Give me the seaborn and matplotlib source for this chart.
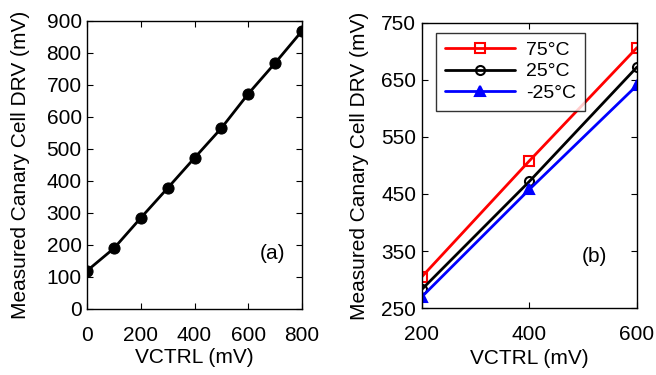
import numpy as np
import pandas as pd
import seaborn as sns
import matplotlib.pyplot as plt

# -----------------------------
# Data
# -----------------------------
vctrl_a = [0, 100, 200, 300, 400, 500, 600, 700, 800]
drv_a = [120, 190, 285, 378, 472, 565, 672, 768, 868]

vctrl_b = [200, 400, 600]
drv_75 = [305, 508, 706]
drv_25 = [283, 472, 672]
drv_m25 = [270, 458, 640]
temp_labels = ["75\u00b0C", "25\u00b0C", "-25\u00b0C"]

# -----------------------------
# Style
# -----------------------------
sns.set_theme(style="ticks")
plt.rcParams["font.family"] = ["Liberation Sans", "DejaVu Sans"]
plt.rcParams["font.size"] = 15
plt.rcParams["xtick.direction"] = "in"
plt.rcParams["ytick.direction"] = "in"
plt.rcParams["xtick.top"] = True
plt.rcParams["ytick.right"] = True
for key in ["text.color", "axes.labelcolor", "xtick.color", "ytick.color",
            "axes.edgecolor"]:
    plt.rcParams[key] = "black"

FS = 15

fig = plt.figure(figsize=(6.56, 3.75), dpi=100)
ax1 = fig.add_axes([0.133, 0.176, 0.327, 0.768])
ax2 = fig.add_axes([0.643, 0.178, 0.328, 0.762])

# -----------------------------
# (a)
# -----------------------------
df_a = pd.DataFrame({"x": vctrl_a, "y": drv_a})
sns.lineplot(data=df_a, x="x", y="y", ax=ax1, color="black", lw=2,
             marker="o", markersize=8, markeredgecolor="black")
ax1.set_xlim(0, 800)
ax1.set_ylim(0, 900)
ax1.set_xticks(np.arange(0, 801, 200))
ax1.set_yticks(np.arange(0, 901, 100))
ax1.set_xlabel("VCTRL (mV)", fontsize=FS, va="center")
ax1.set_ylabel("Measured Canary Cell DRV (mV)", fontsize=FS, va="center")
ax1.xaxis.set_label_coords(0.5, -0.17)
ax1.yaxis.set_label_coords(-0.31, 0.5)
ax1.text(0.865, 0.194, "(a)", transform=ax1.transAxes, fontsize=FS,
         ha="center", va="center")

# -----------------------------
# (b)
# -----------------------------
df_b = pd.DataFrame({
    "x": vctrl_b * 3,
    "y": drv_75 + drv_25 + drv_m25,
    "temp": [temp_labels[0]] * 3 + [temp_labels[1]] * 3 + [temp_labels[2]] * 3,
})
colors = {"75\u00b0C": "#ff0000", "25\u00b0C": "black", "-25\u00b0C": "#0000ff"}
markers = {"75\u00b0C": "s", "25\u00b0C": "o", "-25\u00b0C": "^"}
fills = {"75\u00b0C": "none", "25\u00b0C": "none", "-25\u00b0C": "#0000ff"}
for t in temp_labels:
    sub = df_b[df_b.temp == t]
    sns.lineplot(data=sub, x="x", y="y", ax=ax2, color=colors[t], lw=2,
                 marker=markers[t], markersize=6.5, markerfacecolor=fills[t],
                 markeredgecolor=colors[t], markeredgewidth=1.5, label=t)
ax2.set_xlim(200, 600)
ax2.set_ylim(250, 750)
ax2.set_xticks([200, 400, 600])
ax2.set_yticks([250, 350, 450, 550, 650, 750])
ax2.set_xlabel("VCTRL (mV)", fontsize=FS, va="center")
ax2.set_ylabel("Measured Canary Cell DRV (mV)", fontsize=FS, va="center")
ax2.xaxis.set_label_coords(0.5, -0.175)
ax2.yaxis.set_label_coords(-0.29, 0.5)
ax2.text(0.80, 0.18, "(b)", transform=ax2.transAxes, fontsize=FS,
         ha="center", va="center")
leg = ax2.legend(loc="upper left", bbox_to_anchor=(0.065, 0.965), fontsize=14,
                 frameon=True, fancybox=False, edgecolor="black",
                 handlelength=3.6, borderpad=0.45, labelspacing=0.2,
                 handletextpad=0.6, borderaxespad=0)
leg.get_frame().set_linewidth(1.0)

for ax in (ax1, ax2):
    for s in ax.spines.values():
        s.set_linewidth(1.0)
        s.set_color("black")
    ax.tick_params(labelsize=FS, length=4, width=0.8)
    ax.tick_params(axis="x", pad=12)
    ax.tick_params(axis="y", pad=4)

fig.savefig("out.png", dpi=100)
